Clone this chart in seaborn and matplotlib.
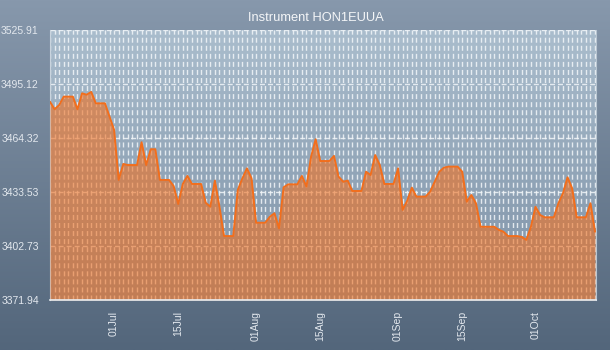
import numpy as np
import pandas as pd
import matplotlib
matplotlib.use("Agg")
import matplotlib.pyplot as plt
import matplotlib.dates as mdates
from matplotlib.colors import LinearSegmentedColormap
import seaborn as sns

# Daily closing levels, one value per calendar day starting at start_date
start_date = "2014-06-17"
closes = [
    3485.0, 3480.7, 3483.1, 3487.9, 3487.9, 3487.9, 3480.7, 3489.8, 3489.0, 3490.6,
    3484.1, 3484.1, 3484.1, 3476.5, 3468.9, 3440.4, 3449.5, 3448.9, 3448.9, 3448.9,
    3461.9, 3448.9, 3457.9, 3457.9, 3440.4, 3440.4, 3440.4, 3436.9, 3426.7, 3438.1,
    3442.7, 3438.1, 3438.1, 3438.1, 3427.4, 3425.1, 3440.0, 3425.1, 3408.4, 3408.4,
    3408.4, 3434.7, 3441.3, 3447.0, 3441.3, 3416.0, 3416.0, 3416.0, 3419.4, 3421.4,
    3412.8, 3436.2, 3437.9, 3437.9, 3437.9, 3442.7, 3436.6, 3453.7, 3463.6, 3451.2,
    3451.2, 3451.2, 3454.1, 3442.3, 3439.4, 3440.0, 3434.1, 3434.1, 3434.1, 3445.1,
    3443.2, 3454.6, 3448.9, 3438.1, 3438.1, 3438.1, 3447.0, 3423.3, 3428.6, 3436.0,
    3430.9, 3430.9, 3430.9, 3433.7, 3439.4, 3445.1, 3447.4, 3448.0, 3448.0, 3448.0,
    3445.1, 3428.0, 3431.8, 3427.1, 3413.7, 3413.7, 3413.7, 3413.7, 3411.9, 3410.9,
    3408.4, 3408.4, 3408.4, 3407.9, 3406.2, 3413.7, 3425.1, 3420.4, 3419.1, 3419.1,
    3419.1, 3427.1, 3432.8, 3441.9, 3435.6, 3419.1, 3419.1, 3419.1, 3427.1, 3410.9,
]
y_ticks = [3371.94, 3402.73, 3433.53, 3464.32, 3495.12, 3525.91]
title = "Instrument HON1EUUA"

dates = pd.date_range(start_date, periods=len(closes), freq="D")
df = pd.DataFrame({"date": dates, "close": closes})

sns.set_style("white")
plt.rcParams["font.family"] = ["Liberation Sans", "DejaVu Sans"]
plt.rcParams["lines.scale_dashes"] = False

W, H = 610, 350
fig = plt.figure(figsize=(W / 100, H / 100), dpi=100)

grad = np.linspace(0, 1, 256).reshape(-1, 1)

# Figure background: vertical blue-grey gradient
bg = fig.add_axes([0, 0, 1, 1], zorder=-2)
bg.imshow(grad, aspect="auto", origin="upper", extent=[0, 1, 0, 1],
          cmap=LinearSegmentedColormap.from_list("fig_bg", ["#8798ac", "#53667b"]))
bg.axis("off")

# Plot area position and its own lighter gradient
pos = [50 / W, 50 / H, 546 / W, 270 / H]
pbg = fig.add_axes(pos, zorder=-1)
pbg.imshow(grad, aspect="auto", origin="upper", extent=[0, 1, 0, 1],
           cmap=LinearSegmentedColormap.from_list("plot_bg", ["#aabdcd", "#7d91a6"]))
pbg.axis("off")

ax = fig.add_axes(pos, zorder=0)
ax.set_facecolor("none")

ax.fill_between(df["date"], df["close"], y_ticks[0], color="#f07020",
                alpha=0.6, lw=0, zorder=2)
sns.lineplot(data=df, x="date", y="close", ax=ax, color="#f26e1c",
             linewidth=1.4, zorder=3)

ax.set_xlim(dates[0], dates[-1] + pd.Timedelta(hours=5))
ax.set_ylim(y_ticks[0], y_ticks[-1])

ax.xaxis.set_major_locator(mdates.DayLocator(bymonthday=[1, 15]))
ax.xaxis.set_major_formatter(mdates.DateFormatter("%d%b"))
ax.xaxis.set_minor_locator(mdates.DayLocator())
ax.set_yticks(y_ticks)
ax.set_yticklabels([f"{v:.2f}" for v in y_ticks])
plt.setp(ax.get_xticklabels(), rotation=90)

ax.tick_params(axis="both", which="both", colors="#dfe6ed", labelcolor="#e3e8ee",
               labelsize=7.5, length=3.5, width=1, direction="out")
ax.tick_params(axis="x", which="major", pad=4.5)
ax.tick_params(axis="y", which="major", pad=4.5)
ax.tick_params(axis="y", which="minor", length=0)

ax.set_axisbelow(True)
grid_kw = dict(color="#f2f6f9", alpha=0.85, lw=1.0, ls=(0, (3.6, 2.2)))
ax.grid(True, which="both", axis="x", **grid_kw)
ax.grid(True, which="major", axis="y", **grid_kw)

ax.spines["top"].set_visible(False)
ax.spines["left"].set_color("#c9d4de")
ax.spines["left"].set_zorder(1)
ax.spines["bottom"].set_color("#e8eef3")
ax.spines["bottom"].set_linewidth(1.2)
ax.spines["bottom"].set_zorder(4)
ax.spines["right"].set_color("#b8c6d2")

ax.set_xlabel("")
ax.set_ylabel("")

fig.text(316 / W, 1 - 18 / H, title, ha="center", va="center",
         color="#f4f6f8", fontsize=9.3)

fig.savefig("out.png", dpi=100)
